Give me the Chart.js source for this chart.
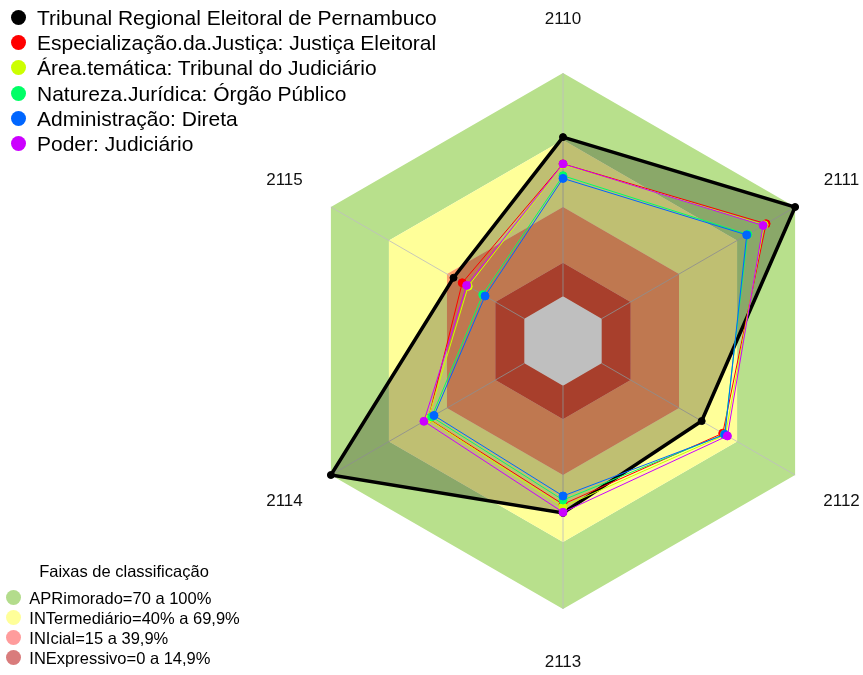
<!DOCTYPE html>
<html><head><meta charset="utf-8">
<script src="https://cdn.jsdelivr.net/npm/chart.js@4/dist/chart.umd.min.js"></script>
<style>
html,body{margin:0;padding:0;background:#fff;}
#wrap{position:relative;width:863px;height:675px;overflow:hidden;font-family:"Liberation Sans",Arial,sans-serif;color:#000;}
#c{position:absolute;left:0;top:0;}
.item{position:absolute;white-space:nowrap;}
.dot{position:absolute;border-radius:50%;}
</style></head>
<body><div id="wrap"><canvas id="c" width="863" height="675"></canvas></div>
<script>
// ---- data ----
const categories = ['2110', '2111', '2112', '2113', '2114', '2115'];
const seriesNames = [
  'Tribunal Regional Eleitoral de Pernambuco',
  'Especialização.da.Justiça: Justiça Eleitoral',
  'Área.temática: Tribunal do Judiciário',
  'Natureza.Jurídica: Órgão Público',
  'Administração: Direta',
  'Poder: Judiciário'
];
const tribunal       = [71.3, 100, 51.7, 57.0, 100, 36.6];
const especializacao = [59.3, 85.0, 62.6, 53.1, 49.6, 32.1];
const areaTematica   = [59.0, 84.0, 64.0, 54.2, 49.8, 29.0];
const natureza       = [54.0, 75.5, 63.5, 51.2, 47.9, 21.5];
const administracao  = [52.8, 75.0, 63.7, 49.4, 46.7, 20.3];
const poder          = [59.3, 83.5, 65.0, 56.7, 51.9, 29.8];
const seriesValues = [tribunal, especializacao, areaTematica, natureza, administracao, poder];

const bandUpper = [100, 70, 40, 15];
const bandLower = [70, 40, 15, 0];
const bandNames = ['APRimorado=70 a 100%', 'INTermediário=40% a 69,9%', 'INIcial=15 a 39,9%', 'INExpressivo=0 a 14,9%'];
const legendTitle = 'Faixas de classificação';
const scaleMin = -20, scaleMax = 100;

// ---- styles ----
const seriesColors = ['#000000', '#FF0000', '#CCFF00', '#00FF66', '#0066FF', '#CC00FF'];
const bandFill = ['#b8e08c', '#ffff99', '#ffa06b', '#e0553b'];
const bandLegendColors = ['#b3dc8c', '#ffff99', '#ff9c9c', '#d97c7c'];

const datasets = [];
bandUpper.forEach((u, i) => {
  datasets.push({
    label: bandNames[i],
    data: categories.map(() => u),
    fill: {value: bandLower[i]},
    backgroundColor: bandFill[i],
    borderWidth: 0,
    borderColor: 'rgba(0,0,0,0)',
    pointRadius: 0,
    order: 20 - i,
    clip: false
  });
});
seriesValues.forEach((vals, i) => {
  const isMain = i === 0;
  datasets.push({
    label: seriesNames[i],
    data: vals,
    fill: isMain ? 'start' : false,
    backgroundColor: isMain ? 'rgba(0,0,0,0.25)' : seriesColors[i],
    borderColor: seriesColors[i],
    borderWidth: isMain ? 3.5 : 1,
    pointRadius: isMain ? 3.5 : 4,
    pointBorderWidth: 1,
    pointBackgroundColor: seriesColors[i],
    pointBorderColor: seriesColors[i],
    order: 6 - i,
    clip: false
  });
});

const overlay = {
  id: 'overlay',
  afterDatasetDraw(chart, args) {
    if (args.index !== bandUpper.length - 1) return;
    const s = chart.scales.r, ctx = chart.ctx;
    const r0 = s.getDistanceFromCenterForValue(0), r1 = s.getDistanceFromCenterForValue(scaleMax);
    ctx.save();
    ctx.strokeStyle = 'rgba(190,190,190,0.85)';
    ctx.lineWidth = 1;
    categories.forEach((c, i) => {
      const a = s.getPointPosition(i, r0), b = s.getPointPosition(i, r1);
      ctx.beginPath(); ctx.moveTo(a.x, a.y); ctx.lineTo(b.x, b.y); ctx.stroke();
    });
    ctx.restore();
  },
  afterDraw(chart) {
    const s = chart.scales.r, ctx = chart.ctx;
    ctx.save();
    ctx.fillStyle = '#111';
    ctx.font = '17px "Liberation Sans", Arial, sans-serif';
    ctx.textAlign = 'center';
    ctx.textBaseline = 'middle';
    categories.forEach((c, i) => {
      const p = s.getPointPosition(i, s.drawingArea * 1.2);
      ctx.fillText(c, p.x, p.y);
    });
    ctx.restore();
  }
};

new Chart(document.getElementById('c'), {
  type: 'radar',
  data: {labels: categories, datasets},
  options: {
    responsive: false,
    animation: false,
    events: [],
    layout: {padding: {left: 295, right: 32, top: 73, bottom: 66}},
    plugins: {legend: {display: false}, tooltip: {enabled: false}},
    elements: {line: {tension: 0}},
    scales: {
      r: {
        min: scaleMin, max: scaleMax,
        ticks: {display: false},
        grid: {display: false},
        angleLines: {display: false},
        pointLabels: {display: false}
      }
    }
  },
  plugins: [overlay]
});

// ---- HTML legends ----
const wrap = document.getElementById('wrap');
function addDot(cx, cy, d, color) {
  const e = document.createElement('div');
  e.className = 'dot';
  e.style.cssText = `left:${cx - d / 2}px;top:${cy - d / 2}px;width:${d}px;height:${d}px;background:${color};`;
  wrap.appendChild(e);
}
function addText(x, cy, size, txt, center) {
  const e = document.createElement('div');
  e.className = 'item';
  const lh = Math.round(size * 1.2);
  e.style.cssText = `top:${cy - lh / 2}px;font-size:${size}px;line-height:${lh}px;` +
    (center ? `left:${x - 150}px;width:300px;text-align:center;` : `left:${x}px;`);
  e.textContent = txt;
  wrap.appendChild(e);
}
seriesNames.forEach((n, i) => {
  const cy = 17.3 + 25.3 * i;
  addDot(18.3, cy, 15, seriesColors[i]);
  addText(37, cy, 21, n, false);
});
addText(124, 571, 16.5, legendTitle, true);
bandNames.forEach((n, i) => {
  const cy = 597.7 + 20 * i;
  addDot(13.5, cy, 15, bandLegendColors[i]);
  addText(29.3, cy, 16.5, n, false);
});
</script>
</body></html>
